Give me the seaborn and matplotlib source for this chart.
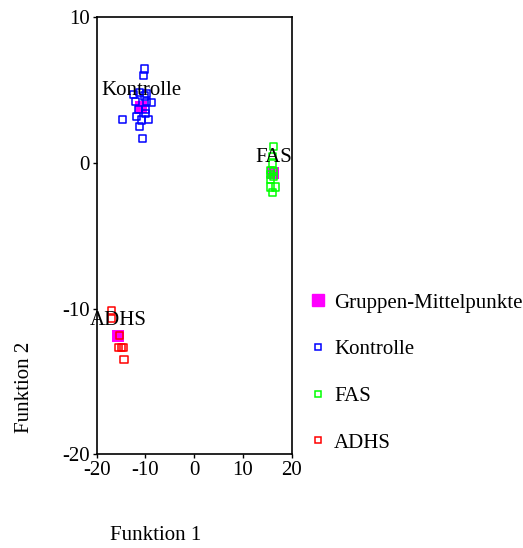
import matplotlib
matplotlib.use("Agg")
import matplotlib.pyplot as plt
from matplotlib.lines import Line2D
import seaborn as sns
import pandas as pd

# Discriminant function scores per case
kontrolle_f1 = [-10.2, -10.4, -12.5, -12.1, -10.2, -8.7, -9.7, -9.9, -9.9, -11.5,
                -14.7, -11.8, -10.8, -9.3, -11.3, -10.6, -11.3, -9.7]
kontrolle_f2 = [6.45, 6.0, 4.7, 4.2, 4.6, 4.15, 4.2, 3.7, 3.4, 3.65,
                3.0, 3.2, 2.95, 3.0, 2.5, 1.65, 4.85, 4.8]
fas_f1 = [16.2, 16.0, 16.0, 15.6, 15.6, 16.2, 16.2, 15.6, 15.7, 16.6, 16.0]
fas_f2 = [1.1, 0.45, 0.0, -0.5, -0.8, -0.6, -0.95, -1.15, -1.65, -1.65, -2.05]
adhs_f1 = [-16.9, -16.9, -15.4, -15.5, -15.0, -14.5, -14.4]
adhs_f2 = [-10.1, -10.65, -11.85, -12.65, -12.65, -12.65, -13.5]

groups = ["Kontrolle", "FAS", "ADHS"]
centroid_f1 = [-11.0, 16.2, -15.7]
centroid_f2 = [3.85, -0.7, -11.9]
group_colors = {"Kontrolle": "#0000FF", "FAS": "#00FF00", "ADHS": "#FF0000"}
centroid_color = "#FF00FF"
centroid_label = "Gruppen-Mittelpunkte"

x_ticks = [-20, -10, 0, 10, 20]
y_ticks = [-20, -10, 0, 10]

scores = pd.concat([
    pd.DataFrame({"f1": kontrolle_f1, "f2": kontrolle_f2, "gruppe": "Kontrolle"}),
    pd.DataFrame({"f1": fas_f1, "f2": fas_f2, "gruppe": "FAS"}),
    pd.DataFrame({"f1": adhs_f1, "f2": adhs_f2, "gruppe": "ADHS"}),
], ignore_index=True)
centroids = pd.DataFrame({"f1": centroid_f1, "f2": centroid_f2, "gruppe": groups})

sns.set_theme(style="white")
plt.rcParams["font.family"] = ["Liberation Serif", "DejaVu Serif"]
plt.rcParams["font.size"] = 15
plt.rcParams["axes.unicode_minus"] = False
plt.rcParams["text.color"] = "black"
plt.rcParams["xtick.color"] = "black"
plt.rcParams["ytick.color"] = "black"

fig = plt.figure(figsize=(5.23, 5.48), dpi=100)
ax = fig.add_axes([0.1849, 0.171, 0.3728, 0.7974])

# group centroids underneath the individual cases
sns.scatterplot(data=centroids, x="f1", y="f2", marker="s", s=80,
                facecolor=centroid_color, edgecolor=centroid_color,
                linewidth=0, ax=ax, legend=False, zorder=2)

for g in groups:
    sub = scores[scores["gruppe"] == g]
    sns.scatterplot(data=sub, x="f1", y="f2", marker="s", s=26,
                    facecolor="none", edgecolor=group_colors[g],
                    linewidth=1.1, ax=ax, legend=False, zorder=3)

for g, cx, cy in zip(groups, centroid_f1, centroid_f2):
    ax.text(cx + 0.2, cy + 1.1, g, ha="center", va="center",
            fontsize=15, color="black", zorder=4)

ax.set_xlim(-20, 20)
ax.set_ylim(-20, 10)
ax.set_xticks(x_ticks)
ax.set_yticks(y_ticks)
ax.set_xlabel("")
ax.set_ylabel("")
ax.tick_params(axis="both", which="major", direction="out", length=3,
               width=1, labelsize=15, pad=2, colors="black",
               labelcolor="black",
               bottom=True, left=True, top=False, right=False)
for sp in ax.spines.values():
    sp.set_color("black")
    sp.set_linewidth(1.2)

fig.text(156 / 523, 1 - 536 / 548, "Funktion 1", ha="center", va="center",
         fontsize=15, color="black")
fig.text(25 / 523, 1 - 387 / 548, "Funktion 2", ha="center", va="center",
         rotation=90, fontsize=15, color="black")

handles = [
    Line2D([], [], linestyle="none", marker="s", markersize=8,
           markerfacecolor=centroid_color, markeredgecolor=centroid_color),
]
for g in groups:
    handles.append(Line2D([], [], linestyle="none", marker="s", markersize=5,
                          markerfacecolor="none", markeredgewidth=1.1,
                          markeredgecolor=group_colors[g]))
leg = fig.legend(handles, [centroid_label] + groups, loc="upper left",
                 bbox_to_anchor=(310 / 523, 1 - 293 / 548), frameon=False,
                 fontsize=15, handlelength=0.8, handletextpad=0.35,
                 labelspacing=1.3, borderaxespad=0, borderpad=0)
for t in leg.get_texts():
    t.set_color("black")

fig.savefig("out.png", dpi=100, facecolor="white")
